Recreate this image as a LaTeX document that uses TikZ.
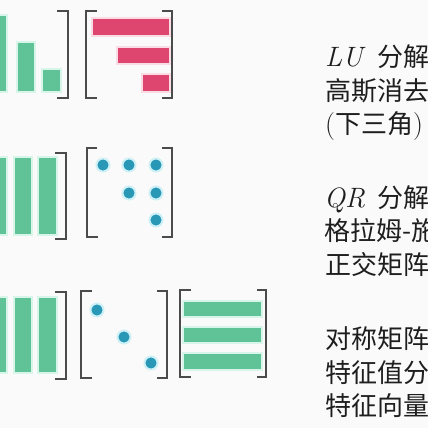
\documentclass[tikz,border=0pt]{standalone}
\usepackage{fontspec}
\newfontfamily\cjk{Noto Sans CJK SC}
\newfontfamily\lmr{Latin Modern Roman}
\definecolor{bgc}{RGB}{250,250,250}
\definecolor{barg}{RGB}{96,195,152}
\definecolor{glowg}{RGB}{215,245,232}
\definecolor{pinkc}{RGB}{222,70,112}
\definecolor{glowp}{RGB}{250,220,228}
\definecolor{dotc}{RGB}{40,152,182}
\definecolor{glowd}{RGB}{205,240,247}
\definecolor{brkc}{RGB}{75,75,75}
\definecolor{txtc}{RGB}{30,30,30}
\newcommand\latn[1]{{\lmr\fontsize{28}{31}\selectfont #1}}
\begin{document}
\begin{tikzpicture}[x=1pt,y=-1pt,
  gbar/.style={fill=barg, draw=glowg, line width=1.6pt},
  pbar/.style={fill=pinkc, draw=glowp, line width=1.6pt},
  dotm/.style={circle, fill=dotc, draw=glowd, line width=2pt, minimum size=13pt, inner sep=0pt},
  brk/.style={draw=brkc, line width=1.1pt},
  lbl/.style={anchor=west, inner sep=0pt, text=txtc, font=\fontsize{26}{31}\selectfont\cjk, text height=22.9pt, text depth=3.1pt}]
\useasboundingbox (0,0) rectangle (428,428);
\fill[bgc] (0,0) rectangle (428,428);
\clip (0,0) rectangle (428,428);

% ---------- row 1 ----------
\fill[gbar] (-11,15) rectangle (7,92);
\fill[gbar] (17,42) rectangle (35,92);
\fill[gbar] (42,69) rectangle (61,92);
\draw[brk] (57,11) -- (68,11) -- (68,98) -- (57,98);

\draw[brk] (97,11) -- (86,11) -- (86,98) -- (97,98);
\fill[pbar] (92,18) rectangle (170,36);
\fill[pbar] (117,47) rectangle (170,64);
\fill[pbar] (142,74) rectangle (170,92);
\draw[brk] (162,11) -- (172,11) -- (172,98) -- (162,98);

\node[lbl] (t1a) at (325,57) {\makebox[52pt][l]{\latn{\itshape LU}}分解};
\node[lbl] (t1b) at (325,90.5) {高斯消去};
\node[lbl] (t1c) at (325,124) {\latn{(}下三角\latn{)}};

% ---------- row 2 ----------
\fill[gbar] (-11,157) rectangle (7,235);
\fill[gbar] (14,157) rectangle (32,235);
\fill[gbar] (38,157) rectangle (57,235);
\draw[brk] (55,153) -- (66,153) -- (66,239) -- (55,239);

\draw[brk] (97,148) -- (87,148) -- (87,237) -- (98,237);
\node[dotm] (d11) at (103,165) {};
\node[dotm] (d12) at (129,165) {};
\node[dotm] (d13) at (156,165) {};
\node[dotm] (d22) at (129,193) {};
\node[dotm] (d23) at (156,193) {};
\node[dotm] (d33) at (156,220) {};
\draw[brk] (162,148) -- (172,148) -- (172,237) -- (162,237);

\node[lbl] (t2a) at (324,197.5) {\makebox[53pt][l]{\latn{\itshape QR}}分解};
\node[lbl] (t2b) at (324,231) {格拉姆-施};
\node[lbl] (t2c) at (325,264.5) {正交矩阵};

% ---------- row 3 ----------
\fill[gbar] (-11,297) rectangle (7,373);
\fill[gbar] (14,297) rectangle (32,373);
\fill[gbar] (38,297) rectangle (57,373);
\draw[brk] (55,292) -- (66,292) -- (66,379) -- (55,379);

\draw[brk] (92,291) -- (81,291) -- (81,378) -- (92,378);
\node[dotm] (e1) at (97,310) {};
\node[dotm] (e2) at (124,337) {};
\node[dotm] (e3) at (151,363) {};
\draw[brk] (157,291) -- (167,291) -- (167,378) -- (157,378);

\draw[brk] (191,290) -- (180,290) -- (180,377) -- (191,377);
\fill[gbar] (183,301) rectangle (262,317);
\fill[gbar] (183,327) rectangle (262,343);
\fill[gbar] (183,353) rectangle (262,370);
\draw[brk] (257,290) -- (266,290) -- (266,377) -- (257,377);

\node[lbl] (t3a) at (325,339) {对称矩阵};
\node[lbl] (t3b) at (325,372.5) {特征值分};
\node[lbl] (t3c) at (325,406) {特征向量};
\end{tikzpicture}
\end{document}
